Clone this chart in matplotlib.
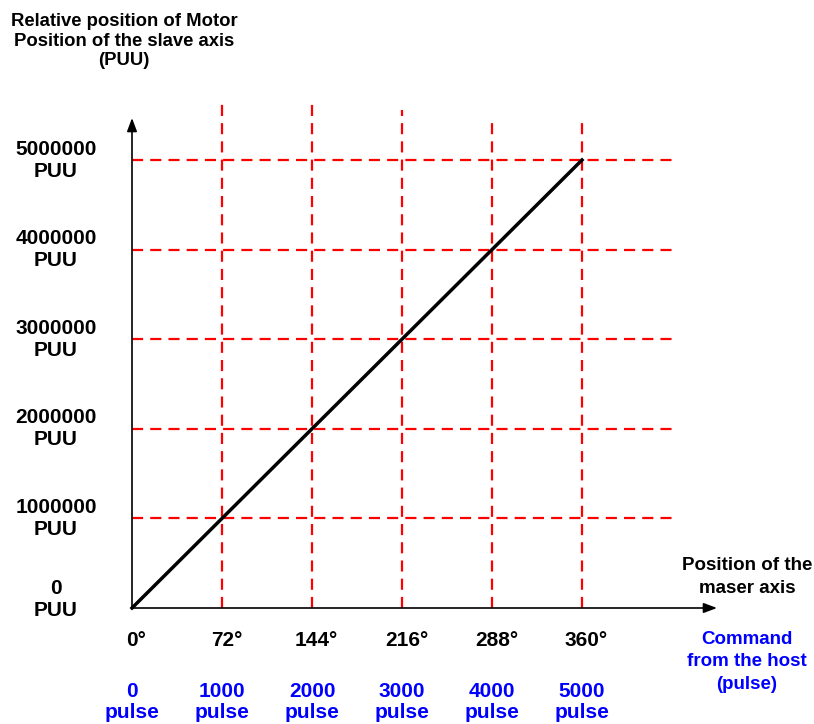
import matplotlib
matplotlib.use("Agg")
import matplotlib.pyplot as plt

plt.rcParams["font.family"] = ["Liberation Sans", "DejaVu Sans"]
plt.rcParams["font.weight"] = "bold"

# data
pulses = [0, 1000, 2000, 3000, 4000, 5000]
degrees = ["0°", "72°", "144°", "216°", "288°", "360°"]
puu = [0, 1000000, 2000000, 3000000, 4000000, 5000000]
puu_labels = ["0\nPUU", "1000000\nPUU", "2000000\nPUU", "3000000\nPUU",
              "4000000\nPUU", "5000000\nPUU"]
pulse_labels = ["0\npulse", "1000\npulse", "2000\npulse", "3000\npulse",
                "4000\npulse", "5000\npulse"]

W, H = 814, 724
X0, Y0 = 132, 608          # pixel position of origin
SX, SY = 0.09, 89.6e-6     # pixels per data unit


def px(p):
    return (p - X0) / SX


def py(p):
    return (Y0 - p) / SY


fig = plt.figure(figsize=(W / 100, H / 100), dpi=100)
ax = fig.add_axes([0, 0, 1, 1])
ax.set_xlim(px(0), px(W))
ax.set_ylim(py(H), py(0))
ax.axis("off")

red = "#ff0000"
blue = "#0000ff"

# dashed grid
vtops = [py(104), py(104), py(104), py(110), py(118), py(122)]
for x, top in zip(pulses[1:], vtops[1:]):
    ax.plot([x, x], [0, top], color=red, lw=1.6, ls=(0, (5, 3.2)))
for y in puu[1:]:
    ax.plot([0, px(673)], [y, y], color=red, lw=1.6, ls=(0, (5, 3.2)))

# main line
ax.plot(pulses, puu, color="black", lw=2.5)

# axes with arrows
ax.annotate("", xy=(0, py(118)), xytext=(0, 0),
            arrowprops=dict(arrowstyle="-|>,head_length=0.8,head_width=0.3",
                            color="black", lw=1.2, shrinkA=0, shrinkB=0))
ax.annotate("", xy=(px(717), 0), xytext=(0, 0),
            arrowprops=dict(arrowstyle="-|>,head_length=0.8,head_width=0.3",
                            color="black", lw=1.2, shrinkA=0, shrinkB=0))

# y labels
for y, lab in zip(puu, puu_labels):
    yy = y if y > 0 else py(600)
    ax.text(px(56), yy, lab, ha="center", va="center", fontsize=15,
            fontweight="bold", linespacing=1.2)

# x labels
for x, d, p in zip(pulses, degrees, pulse_labels):
    ax.text(x + 50, py(641), d, ha="center", va="center", fontsize=15,
            fontweight="bold")
    ax.text(x, py(702), p, ha="center", va="center", fontsize=15,
            fontweight="bold", color=blue, linespacing=1.15)

# axis titles
ax.text(px(124), py(41), "Relative position of Motor\nPosition of the slave axis\n(PUU)",
        ha="center", va="center", fontsize=13.3, fontweight="bold", linespacing=1.2)
ax.text(px(747), py(577), "Position of the\nmaser axis", ha="center", va="center",
        fontsize=13.5, fontweight="bold", linespacing=1.42)
ax.text(px(747), py(662), "Command\nfrom the host\n(pulse)", ha="center", va="center",
        fontsize=13.5, fontweight="bold", color=blue, linespacing=1.42)

fig.savefig("out.png", dpi=100)
